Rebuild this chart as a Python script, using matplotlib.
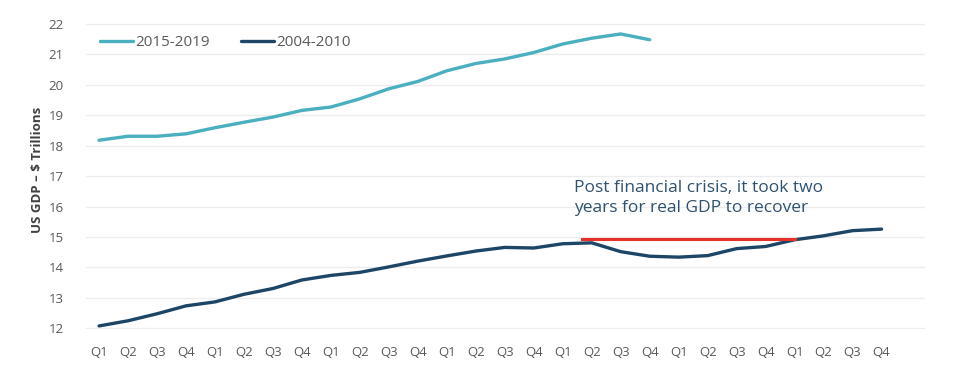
import numpy as np
import matplotlib.pyplot as plt

plt.rcParams['font.family'] = ['Open Sans', 'DejaVu Sans']

# quarters 2004-2010 on the x axis
quarter_labels = ['Q1', 'Q2', 'Q3', 'Q4'] * 7

# US real GDP, $ trillions
gdp_2015_2019 = [18.18, 18.31, 18.31, 18.39, 18.59, 18.77, 18.94, 19.16, 19.27, 19.54,
                 19.87, 20.11, 20.46, 20.70, 20.85, 21.06, 21.34, 21.53, 21.67, 21.48]
gdp_2004_2010 = [12.08, 12.25, 12.48, 12.74, 12.87, 13.12, 13.31, 13.59, 13.74, 13.84,
                 14.02, 14.21, 14.38, 14.54, 14.66, 14.64, 14.78, 14.81, 14.52, 14.37,
                 14.34, 14.39, 14.62, 14.69, 14.91, 15.04, 15.21, 15.26]

# pre-crisis level line (red) and its span in quarter index
recovery_level = 14.92
recovery_start = 16.65
recovery_end = 24.0

teal = '#4aafbe'
navy = '#1c4566'

fig = plt.figure(figsize=(9.6, 3.72), dpi=100)
ax = fig.add_axes([86 / 960, 1 - 329 / 372, (925 - 86) / 960, (329 - 23) / 372])

x1 = np.arange(len(gdp_2015_2019))
x2 = np.arange(len(gdp_2004_2010))
ax.plot(x1, gdp_2015_2019, color=teal, lw=2.4, label='2015-2019', solid_capstyle='round')
ax.plot(x2, gdp_2004_2010, color=navy, lw=2.4, label='2004-2010', solid_capstyle='round')
ax.plot([recovery_start, recovery_end], [recovery_level, recovery_level], color='#e8302a', lw=2.2)

ax.text(16.4, 15.7, 'Post financial crisis, it took two\nyears for real GDP to recover',
        fontsize=12.5, color='#2e5170', linespacing=1.3, va='bottom', ha='left')

ax.set_xlim(-0.45, 28.5)
ax.set_ylim(11.98, 22.03)
ax.set_yticks(range(12, 23))
ax.set_xticks(x2)
ax.set_xticklabels(quarter_labels)
ax.tick_params(axis='both', length=0, labelsize=9.5, labelcolor='#595959')
ax.tick_params(axis='y', pad=16)
ax.tick_params(axis='x', pad=12)
ax.grid(axis='y', color='#ececec', lw=1)
ax.set_axisbelow(True)
for s in ax.spines.values():
    s.set_visible(False)

ax.set_ylabel('US GDP \u2013 $ Trillions', fontsize=9.5, fontweight='bold', color='#404040')
ax.yaxis.set_label_coords(-42 / 839, 0.52)

ax.legend(loc='upper left', bbox_to_anchor=(0.0, 1.005), ncol=2, frameon=False, fontsize=11,
          handlelength=2.2, handletextpad=0.15, columnspacing=2.0, labelcolor='#595959')

fig.savefig('out.png', dpi=100)
